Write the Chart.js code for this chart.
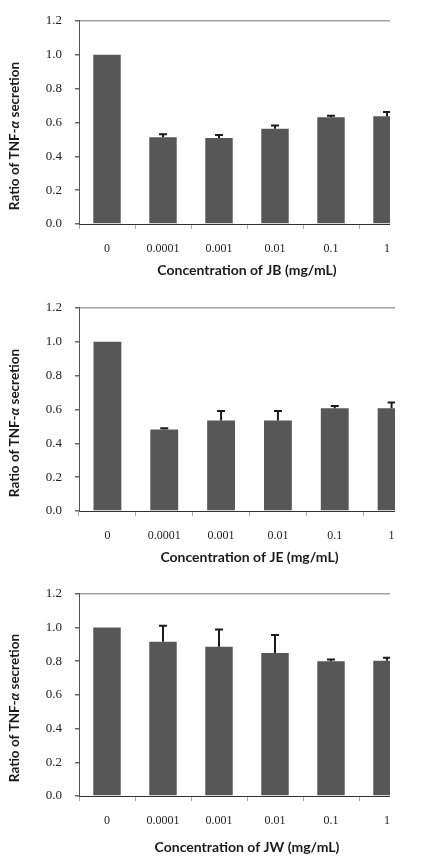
<!DOCTYPE html>
<html>
<head>
<meta charset="utf-8">
<script src="https://cdn.jsdelivr.net/npm/chart.js@4.4.1/dist/chart.umd.min.js"></script>
<style>
  body { margin: 0; background: #fff; width: 423px; height: 864px; position: relative; overflow: hidden; }
  .painel { position: absolute; left: 0; height: 288px; overflow: hidden; }
  canvas { display: block; }
</style>
</head>
<body>
<div class="painel" style="top:0px;width:390px"><canvas id="graficoJB" width="423" height="288"></canvas></div>
<div class="painel" style="top:287px;width:395px"><canvas id="graficoJE" width="423" height="288"></canvas></div>
<div class="painel" style="top:573px;width:390px"><canvas id="graficoJW" width="423" height="288"></canvas></div>
<script>
const concentracoes = ['0', '0.0001', '0.001', '0.01', '0.1', '1'];

const razaoJB = [1.0, 0.513, 0.508, 0.563, 0.631, 0.637];
const erroJB  = [0, 0.017, 0.018, 0.018, 0.008, 0.024];

const razaoJE = [1.0, 0.482, 0.535, 0.535, 0.607, 0.607];
const erroJE  = [0, 0.007, 0.056, 0.056, 0.013, 0.034];

const razaoJW = [1.0, 0.916, 0.886, 0.849, 0.799, 0.803];
const erroJW  = [0, 0.095, 0.102, 0.106, 0.011, 0.018];

const limitesY = [0, 1.2];
const passoY = 0.2;

// barras de erro (só a parte de cima) desenhadas pela escala y
const barrasErro = {
  id: 'barrasErro',
  afterDatasetsDraw(chart, args, opts) {
    const ctx = chart.ctx;
    const y = chart.scales.y;
    const dados = chart.data.datasets[0].data;
    ctx.save();
    ctx.strokeStyle = '#1a1a1a';
    ctx.lineWidth = 2;
    chart.getDatasetMeta(0).data.forEach((barra, i) => {
      const e = opts.erros[i];
      if (!e) return;
      const yBase = y.getPixelForValue(dados[i]);
      const yTopo = y.getPixelForValue(dados[i] + e);
      ctx.beginPath();
      ctx.moveTo(barra.x, yBase);
      ctx.lineTo(barra.x, yTopo);
      ctx.moveTo(barra.x - 4, yTopo);
      ctx.lineTo(barra.x + 4, yTopo);
      ctx.stroke();
    });
    ctx.restore();
  }
};

// titulo do eixo y com o alfa em italico
const tituloY = {
  id: 'tituloY',
  afterDraw(chart) {
    const ctx = chart.ctx;
    const partes = [['Ratio of TNF-', 'bold 13.5px Lato'], ['\u03b1', 'italic bold 13.5px Lato'], [' secretion', 'bold 13.5px Lato']];
    let total = 0;
    partes.forEach(p => { ctx.font = p[1]; total += ctx.measureText(p[0]).width; });
    ctx.save();
    ctx.translate(15, chart.chartArea.bottom - 88);
    ctx.rotate(-Math.PI / 2);
    ctx.fillStyle = '#1a1a1a';
    ctx.textBaseline = 'middle';
    let x = -total / 2;
    partes.forEach(p => {
      ctx.font = p[1];
      ctx.fillText(p[0], x, 0);
      x += ctx.measureText(p[0]).width;
    });
    ctx.restore();
  }
};

function criarGrafico(id, valores, erros, tituloX, direita, alturaX, margemTitulo) {
  new Chart(document.getElementById(id), {
    type: 'bar',
    data: {
      labels: concentracoes,
      datasets: [{
        data: valores,
        backgroundColor: '#575757',
        borderWidth: 0,
        barPercentage: 0.49,
        categoryPercentage: 1
      }]
    },
    options: {
      responsive: false,
      animation: false,
      layout: { padding: { left: 7, top: 8, right: direita, bottom: 0 } },
      plugins: {
        legend: { display: false },
        tooltip: { enabled: false },
        barrasErro: { erros: erros }
      },
      scales: {
        x: {
          afterFit: s => { s.height = alturaX; },
          border: { color: '#333', width: 1 },
          grid: { offset: true, drawOnChartArea: false, tickLength: 5, tickColor: '#aaa' },
          ticks: { color: '#222', padding: 13, font: { family: 'Liberation Serif', size: 12 } },
          title: {
            display: true,
            text: tituloX,
            color: '#1a1a1a',
            font: { family: 'Lato', size: 14, weight: 'bold' },
            padding: { top: 0, bottom: margemTitulo }
          }
        },
        y: {
          min: limitesY[0],
          max: limitesY[1],
          afterFit: s => { s.width = 72; },
          border: { color: '#555', width: 1 },
          grid: {
            color: c => Math.abs(c.tick.value - 1.2) < 1e-6 ? '#a0a0a0' : 'rgba(0,0,0,0)',
            lineWidth: 1.5,
            tickColor: '#666',
            tickLength: 4
          },
          ticks: {
            stepSize: passoY,
            color: '#222',
            padding: 13,
            font: { family: 'Liberation Serif', size: 13 },
            callback: v => Number(v).toFixed(1)
          }
        }
      }
    },
    plugins: [barrasErro, tituloY]
  });
}

criarGrafico('graficoJB', razaoJB, erroJB, 'Concentration of JB (mg/mL)', 8, 64, 9);
criarGrafico('graficoJE', razaoJE, erroJE, 'Concentration of JE (mg/mL)', 3, 64, 9);
criarGrafico('graficoJW', razaoJW, erroJW, 'Concentration of JW (mg/mL)', 8, 65, 5);
</script>
</body>
</html>
